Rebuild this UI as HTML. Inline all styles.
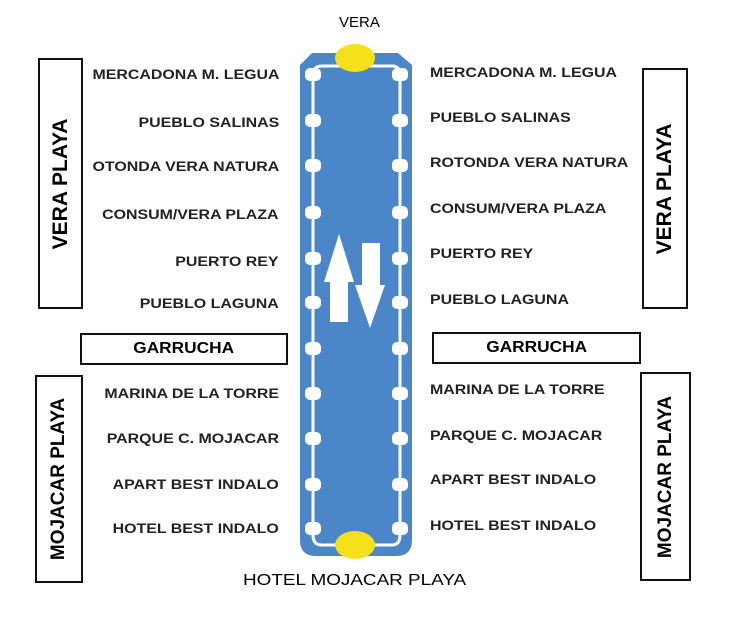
<!DOCTYPE html>
<html><head><style>
body{margin:0;background:#fff;width:734px;height:634px;overflow:hidden;position:relative;font-family:"Liberation Sans",sans-serif}
.l{position:absolute;right:455px;font-weight:bold;font-size:13.5px;color:#222;white-space:nowrap;transform:scaleX(1.18);transform-origin:right center}
.r{position:absolute;left:430px;font-weight:bold;font-size:13.5px;color:#222;white-space:nowrap;transform:scaleX(1.18);transform-origin:left center}
.box{position:absolute;border:2px solid #111;box-sizing:border-box}
.vt{position:absolute;left:50%;top:50%;transform:translate(-50%,-50%) rotate(-90deg);font-weight:bold;font-size:19px;white-space:nowrap}
.g{font-weight:bold;font-size:16px;text-align:center;line-height:28px}
.g span{display:inline-block;transform:scaleX(1.08)}
</style></head><body>
<svg width="734" height="634" style="position:absolute;left:0;top:0">
<path d="M312,53 L398,53 L412,65 L412,540 Q412,556 396,556 L316,556 Q300,556 300,540 L300,65 Z" fill="#4a86c8"/>
<path d="M313,535 L313,75 Q313,66 322,66 L392,66 Q400,66 400,75 L400,535 Q400,545 392,545 L322,545 Q313,545 313,535" fill="none" stroke="#fff" stroke-width="3"/>
<g fill="#fff">
<rect x="305" y="68" width="16" height="13" rx="5"/><rect x="392" y="68" width="16" height="13" rx="5"/>
<rect x="305" y="114" width="16" height="13" rx="5"/><rect x="392" y="114" width="16" height="13" rx="5"/>
<rect x="305" y="159" width="16" height="13" rx="5"/><rect x="392" y="159" width="16" height="13" rx="5"/>
<rect x="305" y="206" width="16" height="13" rx="5"/><rect x="392" y="206" width="16" height="13" rx="5"/>
<rect x="305" y="252" width="16" height="13" rx="5"/><rect x="392" y="252" width="16" height="13" rx="5"/>
<rect x="305" y="296" width="16" height="13" rx="5"/><rect x="392" y="296" width="16" height="13" rx="5"/>
<rect x="305" y="342" width="16" height="13" rx="5"/><rect x="392" y="342" width="16" height="13" rx="5"/>
<rect x="305" y="387" width="16" height="13" rx="5"/><rect x="392" y="387" width="16" height="13" rx="5"/>
<rect x="305" y="432" width="16" height="13" rx="5"/><rect x="392" y="432" width="16" height="13" rx="5"/>
<rect x="305" y="478" width="16" height="13" rx="5"/><rect x="392" y="478" width="16" height="13" rx="5"/>
<rect x="305" y="522" width="16" height="13" rx="5"/><rect x="392" y="522" width="16" height="13" rx="5"/>
<path d="M339,234 L354,282 L348,282 L348,322 L330,322 L330,282 L324,282 Z"/>
<path d="M362,243 L380,243 L380,285 L385,285 L370,328 L355,285 L362,285 Z"/>
</g>
<ellipse cx="355" cy="58" rx="20" ry="14" fill="#f5e11a"/>
<ellipse cx="355" cy="545" rx="20" ry="14" fill="#f5e11a"/>
</svg>
<div style="position:absolute;left:339px;top:14px;font-size:15px">VERA</div>
<div style="position:absolute;left:243px;top:572px;font-size:16px;transform:scaleX(1.18);transform-origin:left center">HOTEL MOJACAR PLAYA</div>
<div class="l" style="top:67px">MERCADONA M. LEGUA</div>
<div class="l" style="top:115px">PUEBLO SALINAS</div>
<div class="l" style="top:159px">OTONDA VERA NATURA</div>
<div class="l" style="top:207px">CONSUM/VERA PLAZA</div>
<div class="l" style="top:254px">PUERTO REY</div>
<div class="l" style="top:296px">PUEBLO LAGUNA</div>
<div class="l" style="top:386px">MARINA DE LA TORRE</div>
<div class="l" style="top:431px">PARQUE C. MOJACAR</div>
<div class="l" style="top:477px">APART BEST INDALO</div>
<div class="l" style="top:521px">HOTEL BEST INDALO</div>
<div class="r" style="top:65px">MERCADONA M. LEGUA</div>
<div class="r" style="top:110px">PUEBLO SALINAS</div>
<div class="r" style="top:155px">ROTONDA VERA NATURA</div>
<div class="r" style="top:201px">CONSUM/VERA PLAZA</div>
<div class="r" style="top:246px">PUERTO REY</div>
<div class="r" style="top:292px">PUEBLO LAGUNA</div>
<div class="r" style="top:382px">MARINA DE LA TORRE</div>
<div class="r" style="top:428px">PARQUE C. MOJACAR</div>
<div class="r" style="top:472px">APART BEST INDALO</div>
<div class="r" style="top:518px">HOTEL BEST INDALO</div>
<div class="box" style="left:38px;top:58px;width:45px;height:251px"><div class="vt" style="font-size:21px">VERA PLAYA</div></div>
<div class="box" style="left:642px;top:68px;width:46px;height:241px"><div class="vt" style="font-size:21px">VERA PLAYA</div></div>
<div class="box" style="left:35px;top:375px;width:48px;height:208px"><div class="vt">MOJACAR PLAYA</div></div>
<div class="box" style="left:640px;top:372px;width:51px;height:209px"><div class="vt">MOJACAR PLAYA</div></div>
<div class="box g" style="left:80px;top:333px;width:208px;height:32px"><span>GARRUCHA</span></div>
<div class="box g" style="left:432px;top:332px;width:209px;height:32px"><span>GARRUCHA</span></div>
</body></html>
